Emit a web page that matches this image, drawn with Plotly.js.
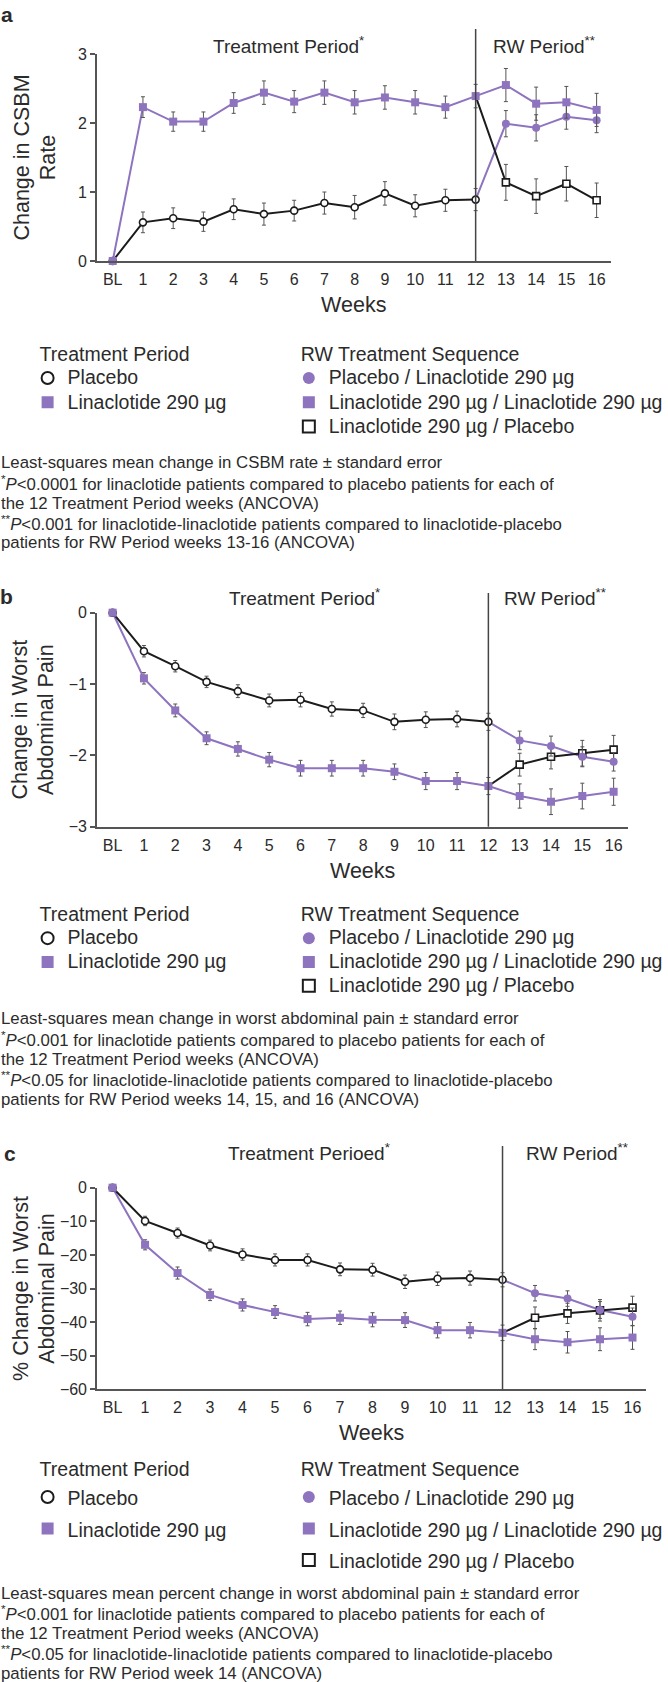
<!DOCTYPE html>
<html>
<head>
<meta charset="utf-8">
<script src="https://cdn.plot.ly/plotly-3.0.1.min.js"></script>
<style>
html,body{margin:0;padding:0;background:#fff;}
#chart{width:668px;height:1682px;}
</style>
</head>
<body>
<div id="chart"></div>
<script>
// ---------------- DATA ----------------
const weekNums   = [0,1,2,3,4,5,6,7,8,9,10,11,12,13,14,15,16];
const weekLabels = ['BL','1','2','3','4','5','6','7','8','9','10','11','12','13','14','15','16'];
const tpWeeks    = [0,1,2,3,4,5,6,7,8,9,10,11,12];   // Treatment Period
const rwWeeks    = [13,14,15,16];                       // Randomized Withdrawal period
const rwStartWeek = 12;

// Panel a: change in CSBM rate
const csbmPlacebo     = [0, 0.56, 0.62, 0.57, 0.75, 0.68, 0.73, 0.84, 0.78, 0.98, 0.80, 0.88, 0.89];
const csbmPlaceboSE   = [0, 0.15, 0.15, 0.14, 0.15, 0.16, 0.15, 0.16, 0.17, 0.17, 0.16, 0.16, 0.16];
const csbmLina        = [0, 2.23, 2.02, 2.02, 2.29, 2.44, 2.31, 2.44, 2.30, 2.37, 2.30, 2.23, 2.39];
const csbmLinaSE      = [0, 0.15, 0.14, 0.14, 0.15, 0.17, 0.16, 0.17, 0.17, 0.17, 0.17, 0.16, 0.17];
const csbmPboLin      = [1.99, 1.93, 2.09, 2.04];
const csbmPboLinSE    = [0.19, 0.19, 0.18, 0.18];
const csbmLinLin      = [2.55, 2.28, 2.30, 2.19];
const csbmLinLinSE    = [0.24, 0.24, 0.23, 0.24];
const csbmLinPbo      = [1.14, 0.94, 1.12, 0.88];
const csbmLinPboSE    = [0.26, 0.25, 0.25, 0.25];
const csbmTicks       = [0, 1, 2, 3];

// Panel b: change in worst abdominal pain
const painPlacebo     = [0, -0.54, -0.75, -0.97, -1.10, -1.23, -1.22, -1.35, -1.37, -1.53, -1.50, -1.49, -1.53];
const painPlaceboSE   = [0, 0.08, 0.08, 0.08, 0.09, 0.09, 0.10, 0.10, 0.10, 0.11, 0.11, 0.11, 0.12];
const painLina        = [0, -0.92, -1.37, -1.76, -1.91, -2.06, -2.18, -2.18, -2.18, -2.23, -2.36, -2.36, -2.43];
const painLinaSE      = [0, 0.08, 0.09, 0.09, 0.10, 0.10, 0.11, 0.11, 0.11, 0.11, 0.12, 0.12, 0.12];
const painPboLin      = [-1.79, -1.87, -2.02, -2.09];
const painPboLinSE    = [0.13, 0.14, 0.14, 0.13];
const painLinLin      = [-2.57, -2.65, -2.57, -2.51];
const painLinLinSE    = [0.17, 0.18, 0.18, 0.19];
const painLinPbo      = [-2.13, -2.02, -1.97, -1.92];
const painLinPboSE    = [0.16, 0.17, 0.18, 0.20];
const painTicks       = [0, -1, -2, -3];

// Panel c: % change in worst abdominal pain
const pctPlacebo      = [0, -9.9, -13.5, -17.2, -19.9, -21.5, -21.5, -24.3, -24.4, -28.0, -27.1, -26.9, -27.4];
const pctPlaceboSE    = [0, 1.4, 1.5, 1.6, 1.7, 1.8, 1.8, 1.9, 1.9, 2.0, 2.0, 2.1, 2.1];
const pctLina         = [0, -17.0, -25.4, -31.9, -34.9, -37.0, -39.1, -38.7, -39.3, -39.4, -42.4, -42.4, -43.2];
const pctLinaSE       = [0, 1.5, 1.8, 1.7, 1.8, 1.9, 2.0, 2.0, 2.1, 2.2, 2.3, 2.3, 2.3];
const pctPboLin       = [-31.4, -33.0, -36.4, -38.4];
const pctPboLinSE     = [2.3, 2.3, 2.5, 2.6];
const pctLinLin       = [-45.1, -46.0, -45.1, -44.6];
const pctLinLinSE     = [3.1, 3.2, 3.4, 3.5];
const pctLinPbo       = [-38.7, -37.4, -36.5, -35.7];
const pctLinPboSE     = [3.2, 3.0, 3.2, 3.4];
const pctTicks        = [0, -10, -20, -30, -40, -50, -60];

// Legend / text labels
const tpLegendTitle = 'Treatment Period';
const rwLegendTitle = 'RW Treatment Sequence';
const nPlacebo = 'Placebo';
const nLina    = 'Linaclotide 290 µg';
const nPboLin  = 'Placebo / Linaclotide 290 µg';
const nLinLin  = 'Linaclotide 290 µg / Linaclotide 290 µg';
const nLinPbo  = 'Linaclotide 290 µg / Placebo';

// ---------------- STYLE / GEOMETRY ----------------
const W = 668, H = 1682;
const FONT = 'Liberation Sans, Arial, Helvetica, sans-serif';
const TXT = '#2b2b2b';
const PURPLE = '#8e73bf';
const BLACK = '#1c1c1c';
const AXC = '#555555';
const px = v => v / W;
const py = v => 1 - v / H;
const sized = (t, s) => '<span style="font-size:' + s + 'px">' + t + '</span>';

const panels = [
  { key:'a', xa:'x',  ya:'y',  left:98, right:617, top:54,    bottom:261,   xr:[-0.52,16.46], yr:[0,3],   ticks:csbmTicks,
    ytitle:'Change in CSBM<br>Rate', ystand:17, legL:'legend',  legR:'legend2', legTop:331, legItem:16.3, legTitle:23,
    placebo:csbmPlacebo, placeboSE:csbmPlaceboSE, lina:csbmLina, linaSE:csbmLinaSE,
    pboLin:csbmPboLin, pboLinSE:csbmPboLinSE, linLin:csbmLinLin, linLinSE:csbmLinLinSE, linPbo:csbmLinPbo, linPboSE:csbmLinPboSE },
  { key:'b', xa:'x2', ya:'y2', left:98, right:635, top:612.7, bottom:826.7, xr:[-0.5,16.47],  yr:[-3,0],  ticks:painTicks,
    ytitle:'Change in Worst<br>Abdominal Pain', ystand:10, legL:'legend3', legR:'legend4', legTop:892, legItem:16.0, legTitle:22.5,
    placebo:painPlacebo, placeboSE:painPlaceboSE, lina:painLina, linaSE:painLinaSE,
    pboLin:painPboLin, pboLinSE:painPboLinSE, linLin:painLinLin, linLinSE:painLinLinSE, linPbo:painLinPbo, linPboSE:painLinPboSE },
  { key:'c', xa:'x3', ya:'y3', left:98, right:653, top:1187.7, bottom:1389.3, xr:[-0.48,16.42], yr:[-60,0], ticks:pctTicks,
    ytitle:'% Change in Worst<br>Abdominal Pain', ystand:0, legL:'legend5', legR:'legend6', legTop:1445, legItem:21.9, legTitle:24,
    placebo:pctPlacebo, placeboSE:pctPlaceboSE, lina:pctLina, linaSE:pctLinaSE,
    pboLin:pctPboLin, pboLinSE:pctPboLinSE, linLin:pctLinLin, linLinSE:pctLinLinSE, linPbo:pctLinPbo, linPboSE:pctLinPboSE }
];

const traces = [];
const layout = {
  width: W, height: H,
  margin: {l:0, r:0, t:0, b:0},
  paper_bgcolor: '#ffffff', plot_bgcolor: '#ffffff',
  font: {family: FONT, color: TXT, size: 16},
  showlegend: true,
  annotations: [], shapes: []
};

function errBar(arr){ return {type:'data', array:arr, visible:true, color:'#555', thickness:1, width:2}; }

const LEG_TXT = 19.5;

panels.forEach((p, i) => {
  const sfx = i === 0 ? '' : String(i + 1);
  const rwX = [rwStartWeek].concat(rwWeeks);
  const last = tpWeeks.length - 1;
  const common = {xaxis:p.xa, yaxis:p.ya, cliponaxis:false, hoverinfo:'x+y'};

  // connecting lines
  traces.push(Object.assign({x:tpWeeks, y:p.lina, mode:'lines', line:{color:PURPLE, width:2}, showlegend:false}, common));
  traces.push(Object.assign({x:rwX, y:[p.placebo[last]].concat(p.pboLin), mode:'lines', line:{color:PURPLE, width:2}, showlegend:false}, common));
  traces.push(Object.assign({x:rwX, y:[p.lina[last]].concat(p.linLin), mode:'lines', line:{color:PURPLE, width:2}, showlegend:false}, common));
  traces.push(Object.assign({x:tpWeeks, y:p.placebo, mode:'lines', line:{color:BLACK, width:2}, showlegend:false}, common));
  traces.push(Object.assign({x:rwX, y:[p.lina[last]].concat(p.linPbo), mode:'lines', line:{color:BLACK, width:2}, showlegend:false}, common));

  // markers with error bars (legend entries)
  traces.push(Object.assign({x:tpWeeks, y:p.placebo, error_y:errBar(p.placeboSE), mode:'markers', name:sized(nPlacebo, LEG_TXT), legend:p.legL, legendrank:1,
    marker:{symbol:'circle', size:7, color:'#ffffff', line:{color:BLACK, width:1.6}}}, common));
  traces.push(Object.assign({x:rwWeeks, y:p.linPbo, error_y:errBar(p.linPboSE), mode:'markers', name:sized(nLinPbo, LEG_TXT), legend:p.legR, legendrank:3,
    marker:{symbol:'square', size:7, color:'#ffffff', line:{color:BLACK, width:1.6}}}, common));
  traces.push(Object.assign({x:tpWeeks, y:p.lina, error_y:errBar(p.linaSE), mode:'markers', name:sized(nLina, LEG_TXT), legend:p.legL, legendrank:2,
    marker:{symbol:'square', size:8, color:PURPLE, line:{width:0}}}, common));
  traces.push(Object.assign({x:rwWeeks, y:p.pboLin, error_y:errBar(p.pboLinSE), mode:'markers', name:sized(nPboLin, LEG_TXT), legend:p.legR, legendrank:1,
    marker:{symbol:'circle', size:8, color:PURPLE, line:{width:0}}}, common));
  traces.push(Object.assign({x:rwWeeks, y:p.linLin, error_y:errBar(p.linLinSE), mode:'markers', name:sized(nLinLin, LEG_TXT), legend:p.legR, legendrank:2,
    marker:{symbol:'square', size:8, color:PURPLE, line:{width:0}}}, common));

  // axes
  layout['xaxis' + sfx] = {
    domain:[px(p.left), px(p.right)], range:p.xr, anchor:p.ya,
    tickmode:'array', tickvals:weekNums, ticktext:weekLabels, ticks:'',
    showline:true, linecolor:AXC, linewidth:1.5, showgrid:false, zeroline:false,
    tickfont:{size:16, color:TXT, family:FONT}, ticklabelstandoff:3,
    title:{text:'Weeks', font:{size:21.5, color:TXT, family:FONT}, standoff:10},
    fixedrange:true
  };
  layout['yaxis' + sfx] = {
    domain:[py(p.bottom), py(p.top)], range:p.yr, anchor:p.xa,
    tickmode:'array', tickvals:p.ticks, ticks:'outside', ticklen:5, tickwidth:1.5, tickcolor:AXC,
    showline:true, linecolor:AXC, linewidth:1.5, showgrid:false, zeroline:false,
    tickfont:{size:16, color:TXT, family:FONT},
    title:{text:sized(p.ytitle, 21.5), font:{size:20, color:TXT, family:FONT}, standoff:p.ystand},
    fixedrange:true
  };

  // legends
  const legBase = {
    yanchor:'top', xanchor:'left', orientation:'v', bgcolor:'rgba(0,0,0,0)', borderwidth:0,
    font:{size:p.legItem, color:TXT, family:FONT}, itemsizing:'constant', indentation:-10,
    traceorder:'normal', itemclick:false, itemdoubleclick:false
  };
  layout[p.legL] = Object.assign({}, legBase, {x:px(38), y:py(p.legTop),
    title:{text:sized(tpLegendTitle, LEG_TXT), font:{size:p.legTitle, color:TXT, family:FONT}}});
  layout[p.legR] = Object.assign({}, legBase, {x:px(302), y:py(p.legTop),
    title:{text:sized(rwLegendTitle, LEG_TXT), font:{size:p.legTitle, color:TXT, family:FONT}}});
});

// vertical RW start lines
const vTops = [29, 593, 1146];
panels.forEach((p, i) => {
  layout.shapes.push({type:'line', xref:p.xa, yref:'paper', x0:rwStartWeek, x1:rwStartWeek,
    y0:py(p.bottom), y1:py(vTops[i]), line:{color:'#444', width:1.5}});
});

// period labels and panel letters
const ann = layout.annotations;
function label(text, xPx, yPx, size, opts){
  ann.push(Object.assign({text, xref:'paper', yref:'paper', x:px(xPx), y:py(yPx), xanchor:'center', yanchor:'middle',
    showarrow:false, font:{size, color:TXT, family:FONT}}, opts || {}));
}
label('Treatment Period<sup>*</sup>', 292, 45, 19);
label('RW Period<sup>**</sup>', 550, 45, 19);
label('Treatment Period<sup>*</sup>', 308, 597, 19);
label('RW Period<sup>**</sup>', 561, 597, 19);
label('Treatment Perioed<sup>*</sup>', 312, 1152, 19);
label('RW Period<sup>**</sup>', 583, 1152, 19);
label('<b>a</b>', 7, 15, 21);
label('<b>b</b>', 7, 597, 21);
label('<b>c</b>', 10, 1153, 21);

// footnotes
const footA = [
  'Least-squares mean change in CSBM rate ± standard error',
  '<sup>*</sup><i>P</i>&lt;0.0001 for linaclotide patients compared to placebo patients for each of',
  'the 12 Treatment Period weeks (ANCOVA)',
  '<sup>**</sup><i>P</i>&lt;0.001 for linaclotide-linaclotide patients compared to linaclotide-placebo',
  'patients for RW Period weeks 13-16 (ANCOVA)'
];
const footB = [
  'Least-squares mean change in worst abdominal pain ± standard error',
  '<sup>*</sup><i>P</i>&lt;0.001 for linaclotide patients compared to placebo patients for each of',
  'the 12 Treatment Period weeks (ANCOVA)',
  '<sup>**</sup><i>P</i>&lt;0.05 for linaclotide-linaclotide patients compared to linaclotide-placebo',
  'patients for RW Period weeks 14, 15, and 16 (ANCOVA)'
];
const footC = [
  'Least-squares mean percent change in worst abdominal pain ± standard error',
  '<sup>*</sup><i>P</i>&lt;0.001 for linaclotide patients compared to placebo patients for each of',
  'the 12 Treatment Period weeks (ANCOVA)',
  '<sup>**</sup><i>P</i>&lt;0.05 for linaclotide-linaclotide patients compared to linaclotide-placebo',
  'patients for RW Period week 14 (ANCOVA)'
];
[[footA, 463], [footB, 1019], [footC, 1593]].forEach(([lines, y0]) => {
  lines.forEach((t, k) => label(t, -1, y0 + k * 20, 16.8, {xanchor:'left'}));
});

Plotly.newPlot('chart', traces, layout, {displayModeBar:false, responsive:false});
</script>
</body>
</html>
